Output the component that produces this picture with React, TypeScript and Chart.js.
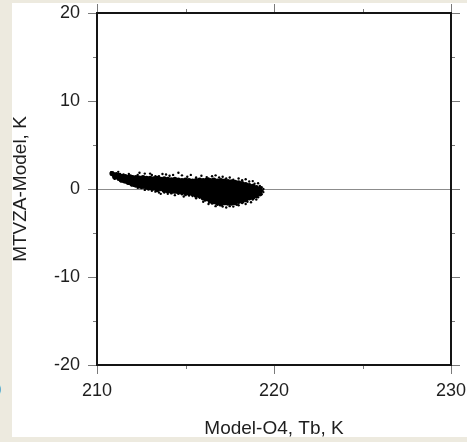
import React, { useEffect, useRef } from "react";
import { Chart, registerables } from "chart.js";

Chart.register(...registerables);

// Axis ticks
const xTicks = [210, 220, 230];
const xMinorTicks = [215, 225];
const yTicks = [-20, -10, 0, 10, 20];
const yMinorTicks = [-15, -5, 5, 15];

const xTitle = "Model-O4, Tb, K";
const yTitle = "MTVZA-Model, K";

// Dense core of the scatter: [Model-O4 Tb, list of MTVZA-Model differences]
const coreColumns: [number, number[]][] = [
  [210.85, [1.75]],
  [211.0, [1.6, 1.4]],
  [211.2, [1.55, 1.3]],
  [211.4, [1.45, 1.2, 1.0]],
  [211.6, [1.4, 1.1, 0.9]],
  [211.8, [1.35, 1.05, 0.75]],
  [212.0, [1.3, 1.0, 0.7, 0.55]],
  [212.2, [1.3, 0.95, 0.65, 0.45]],
  [212.4, [1.25, 0.9, 0.6, 0.35]],
  [212.6, [1.3, 0.95, 0.6, 0.3]],
  [212.8, [1.2, 0.85, 0.5, 0.2]],
  [213.0, [1.2, 0.85, 0.5, 0.15]],
  [213.2, [1.15, 0.8, 0.45, 0.1]],
  [213.4, [1.2, 0.85, 0.5, 0.15, -0.05]],
  [213.6, [1.1, 0.75, 0.4, 0.05]],
  [213.8, [1.15, 0.8, 0.45, 0.1, -0.15]],
  [214.0, [1.1, 0.75, 0.4, 0.05, -0.2]],
  [214.2, [1.05, 0.7, 0.35, 0.0, -0.25]],
  [214.4, [1.1, 0.75, 0.4, 0.05, -0.25]],
  [214.6, [1.0, 0.65, 0.3, -0.05, -0.3]],
  [214.8, [0.95, 0.6, 0.25, -0.1, -0.35]],
  [215.0, [1.0, 0.65, 0.3, -0.05, -0.4]],
  [215.2, [0.95, 0.6, 0.25, -0.1, -0.45]],
  [215.4, [0.9, 0.55, 0.2, -0.15, -0.5]],
  [215.6, [0.95, 0.6, 0.25, -0.1, -0.45, -0.7]],
  [215.8, [1.0, 0.65, 0.3, -0.05, -0.4, -0.75]],
  [216.0, [0.95, 0.6, 0.25, -0.1, -0.45, -0.8, -1.0]],
  [216.2, [1.0, 0.65, 0.3, -0.05, -0.4, -0.75, -1.1]],
  [216.4, [0.95, 0.6, 0.25, -0.1, -0.45, -0.8, -1.15, -1.35]],
  [216.6, [1.0, 0.65, 0.3, -0.05, -0.4, -0.75, -1.1, -1.45]],
  [216.8, [0.9, 0.55, 0.2, -0.15, -0.5, -0.85, -1.2, -1.55]],
  [217.0, [0.95, 0.6, 0.25, -0.1, -0.45, -0.8, -1.15, -1.5, -1.7]],
  [217.2, [0.9, 0.55, 0.2, -0.15, -0.5, -0.85, -1.2, -1.55]],
  [217.4, [0.85, 0.5, 0.15, -0.2, -0.55, -0.9, -1.25, -1.6]],
  [217.6, [0.8, 0.45, 0.1, -0.25, -0.6, -0.95, -1.3, -1.6]],
  [217.8, [0.75, 0.4, 0.05, -0.3, -0.65, -1.0, -1.35, -1.55]],
  [218.0, [0.7, 0.35, 0.0, -0.35, -0.7, -1.05, -1.4]],
  [218.2, [0.6, 0.25, -0.1, -0.45, -0.8, -1.15, -1.35]],
  [218.4, [0.5, 0.15, -0.2, -0.55, -0.9, -1.2]],
  [218.6, [0.4, 0.05, -0.3, -0.65, -1.0]],
  [218.8, [0.3, 0.0, -0.35, -0.7, -0.95]],
  [219.0, [0.15, -0.15, -0.45, -0.75]],
  [219.2, [0.0, -0.3, -0.55]],
];

// Sparse points around the edge of the cloud: [Model-O4 Tb, MTVZA-Model]
const scatterPoints: [number, number][] = [
  [210.8, 1.9], [210.9, 1.85], [211.1, 1.8], [211.3, 1.7], [211.5, 1.65],
  [211.9, 1.55], [212.3, 1.6], [212.7, 1.75], [213.1, 1.6], [213.5, 1.45],
  [213.9, 1.65], [214.6, 1.85], [214.1, 1.5], [215.1, 1.4], [215.6, 1.3],
  [216.2, 1.35], [216.5, 1.45], [216.9, 1.3], [217.3, 1.2], [218.2, 1.0],
  [218.6, 0.85], [218.9, 0.6], [219.2, 0.35], [219.3, 0.2], [219.35, -0.2],
  [219.3, -0.6], [219.1, -0.95], [218.8, -1.2], [218.5, -1.45], [218.2, -1.6],
  [217.9, -1.8], [217.5, -1.95], [217.1, -2.0], [216.8, -1.8], [216.5, -1.65],
  [216.1, -1.3], [215.8, -1.0], [215.4, -0.8], [215.0, -0.7], [214.6, -0.55],
  [214.2, -0.5], [213.8, -0.4], [213.3, -0.3], [212.9, -0.05], [212.5, 0.1],
  [212.1, 0.35], [211.7, 0.65], [211.3, 0.95], [211.0, 1.15], [213.6, -0.55],
  [214.9, -0.85], [216.3, 1.2], [217.7, 1.05], [212.0, 1.45], [213.3, 1.45],
  [211.2, 1.95], [211.8, 1.7], [212.4, 1.85], [213.0, 1.75], [213.7, 1.7],
  [214.3, 1.6], [214.8, 1.55], [215.3, 1.6], [215.9, 1.5], [216.7, 1.55],
  [217.1, 1.4], [217.5, 1.3], [218.0, 1.2], [218.4, 1.1], [218.8, 0.9],
  [219.1, 0.65], [211.2, 1.05], [211.5, 0.8], [211.9, 0.5], [212.3, 0.15],
  [212.7, -0.1], [213.1, -0.2], [213.5, -0.4], [214.0, -0.55], [214.4, -0.7],
  [214.8, -0.6], [215.2, -0.75], [215.6, -1.05], [216.0, -1.45], [216.3, -1.7],
  [216.7, -1.95], [217.3, -2.1], [217.7, -2.0], [218.0, -1.85], [218.4, -1.7],
  [218.7, -1.5], [219.0, -1.2], [219.4, -0.35], [219.4, 0.0],
];

const FONT = "'Liberation Sans', Arial, Helvetica, sans-serif";
const TEXT_COLOR = "#1e1e1e";

const framePlugin = {
  id: "frame",
  beforeDatasetsDraw(chart: any) {
    const { ctx, chartArea: a, scales } = chart;
    const y0 = Math.round(scales.y.getPixelForValue(0)) + 0.5;
    ctx.save();
    ctx.strokeStyle = "#8c8c8c";
    ctx.lineWidth = 1;
    ctx.beginPath();
    ctx.moveTo(a.left, y0);
    ctx.lineTo(a.right, y0);
    ctx.stroke();
    ctx.restore();
  },
  afterDatasetsDraw(chart: any) {
    const { ctx, chartArea: a, scales } = chart;
    const xs = scales.x;
    const ys = scales.y;
    ctx.save();
    ctx.strokeStyle = "#7a7a7a";
    ctx.lineWidth = 1;
    const drawX = (v: number, len: number) => {
      const p = Math.round(xs.getPixelForValue(v)) + 0.5;
      ctx.beginPath();
      ctx.moveTo(p, a.bottom);
      ctx.lineTo(p, a.bottom + len);
      ctx.moveTo(p, a.top);
      ctx.lineTo(p, a.top - len);
      ctx.stroke();
    };
    const drawY = (v: number, len: number) => {
      const p = Math.round(ys.getPixelForValue(v)) + 0.5;
      ctx.beginPath();
      ctx.moveTo(a.left, p);
      ctx.lineTo(a.left - len, p);
      ctx.moveTo(a.right, p);
      ctx.lineTo(a.right + len, p);
      ctx.stroke();
    };
    xTicks.forEach((v) => drawX(v, 9));
    xMinorTicks.forEach((v) => drawX(v, 4));
    yTicks.forEach((v) => drawY(v, 9));
    yMinorTicks.forEach((v) => drawY(v, 4));
    ctx.strokeStyle = "#141414";
    ctx.lineWidth = 2;
    ctx.strokeRect(a.left, a.top, a.right - a.left, a.bottom - a.top);
    ctx.restore();
  },
};

export default function App() {
  const canvasRef = useRef<HTMLCanvasElement | null>(null);

  useEffect(() => {
    const canvas = canvasRef.current;
    if (!canvas) return;
    const coreData = coreColumns.flatMap(([x, ys]) => ys.map((y) => ({ x, y })));
    const edgeData = scatterPoints.map(([x, y]) => ({ x, y }));
    const chart = new Chart(canvas, {
      type: "scatter",
      data: {
        datasets: [
          {
            data: coreData,
            backgroundColor: "#000",
            borderWidth: 0,
            pointRadius: 2.6,
          },
          {
            data: edgeData,
            backgroundColor: "#000",
            borderWidth: 0,
            pointRadius: 1.2,
          },
        ],
      },
      options: {
        animation: false,
        responsive: false,
        events: [],
        layout: { padding: { top: 13, right: 16, left: 0, bottom: 0 } },
        plugins: { legend: { display: false }, tooltip: { enabled: false } },
        scales: {
          x: {
            type: "linear",
            min: 210,
            max: 230,
            afterBuildTicks: (s: any) => {
              s.ticks = xTicks.map((v) => ({ value: v }));
            },
            afterFit: (s: any) => {
              s.height = 77;
              s.paddingLeft = 0;
              s.paddingRight = 0;
              s.paddingTop = 0;
              s.paddingBottom = 0;
            },
            grid: { display: false, drawTicks: false },
            border: { display: false },
            ticks: {
              color: TEXT_COLOR,
              font: { family: FONT, size: 18, lineHeight: 1 },
              padding: 17,
              maxRotation: 0,
              autoSkip: false,
            },
            title: {
              display: true,
              text: xTitle,
              color: TEXT_COLOR,
              font: { family: FONT, size: 19, lineHeight: 1 },
              padding: { top: 0, bottom: 3.5 },
            },
          },
          y: {
            type: "linear",
            min: -20,
            max: 20,
            afterBuildTicks: (s: any) => {
              s.ticks = yTicks.map((v) => ({ value: v }));
            },
            afterFit: (s: any) => {
              s.width = 97;
              s.paddingLeft = 0;
              s.paddingRight = 0;
              s.paddingTop = 0;
              s.paddingBottom = 0;
            },
            grid: { display: false, drawTicks: false },
            border: { display: false },
            ticks: {
              color: TEXT_COLOR,
              font: { family: FONT, size: 18, lineHeight: 1 },
              padding: 17,
              autoSkip: false,
            },
            title: {
              display: true,
              text: yTitle,
              color: TEXT_COLOR,
              font: { family: FONT, size: 19, lineHeight: 1 },
              padding: { top: 11, bottom: 0 },
            },
          },
        },
      },
      plugins: [framePlugin],
    } as any);
    return () => chart.destroy();
  }, []);

  return (
    <div
      style={{
        position: "fixed",
        left: 0,
        top: 0,
        width: 467,
        height: 442,
        background: "#edeadf",
        overflow: "hidden",
      }}
    >
      <div
        style={{
          position: "absolute",
          left: 12,
          top: 3,
          width: 455,
          height: 434,
          background: "#ffffff",
        }}
      />
      <div
        style={{
          position: "absolute",
          left: -9,
          top: 380,
          fontFamily: FONT,
          fontSize: 18,
          lineHeight: "20px",
          color: TEXT_COLOR,
        }}
      >
        0
      </div>
      <canvas
        ref={canvasRef}
        width={467}
        height={442}
        style={{ position: "absolute", left: 0, top: 0, width: 467, height: 442 }}
      />
    </div>
  );
}
